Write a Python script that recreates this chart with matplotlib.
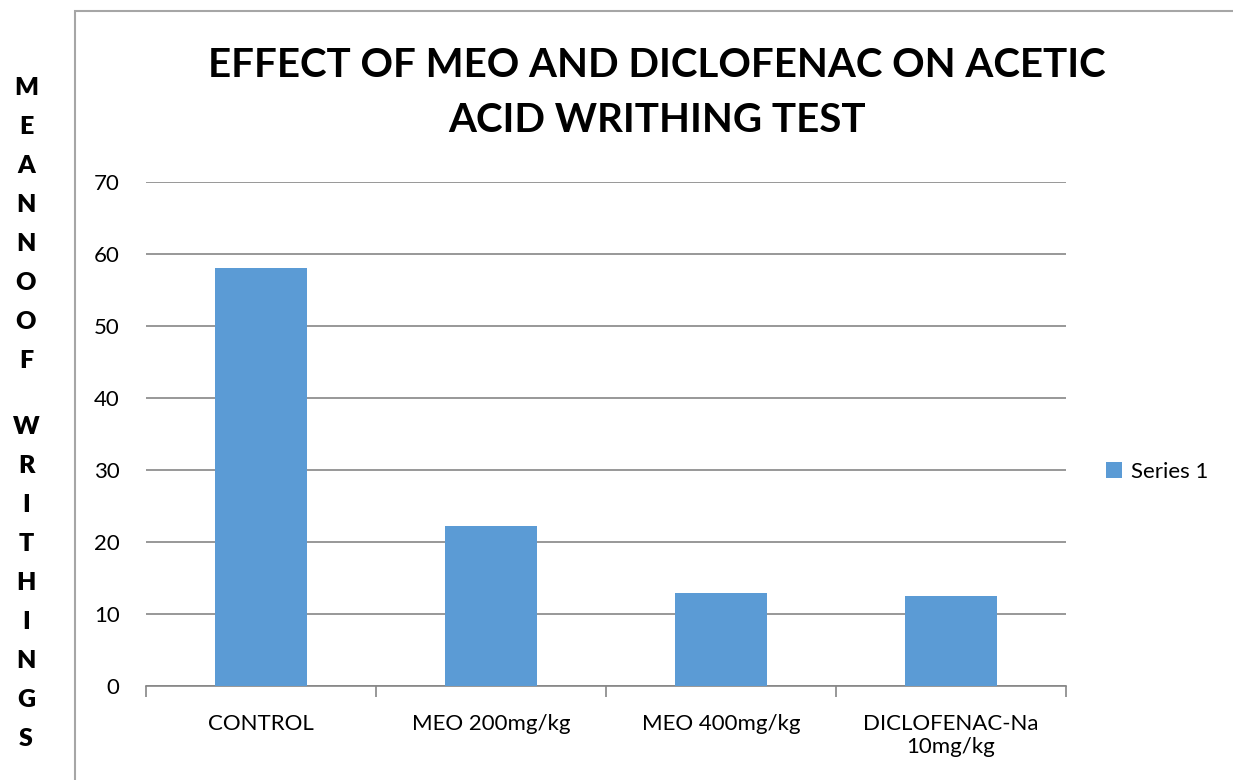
#! /usr/bin/env python3
import matplotlib
matplotlib.use('Agg')
from matplotlib import pyplot as plt
from matplotlib.patches import Rectangle

plt.rcParams['font.family'] = ['Lato', 'DejaVu Sans']

categories = ['CONTROL', 'MEO 200mg/kg', 'MEO 400mg/kg', 'DICLOFENAC-Na\n10mg/kg']
values = [58.0, 22.2, 12.9, 12.5]
series_name = 'Series 1'
title = 'EFFECT OF MEO AND DICLOFENAC ON ACETIC\nACID WRITHING TEST'
ylabel_words = ['MEANNOOF', 'WRITHINGS']

W, H = 1233, 780
fig = plt.figure(figsize=(W / 100, H / 100), dpi=100)

# plot area in pixels: x 146..1066, y 182 (70) .. 686 (0)
ax = fig.add_axes([146 / W, 1 - 686 / H, 920 / W, 504 / H])

bar_color = '#5b9bd5'
grid_color = '#868686'
x = list(range(len(categories)))
ax.bar(x, values, width=0.4, color=bar_color, label=series_name, zorder=3)

ax.set_xlim(-0.5, len(categories) - 0.5)
ax.set_ylim(0, 70)
ax.set_yticks(range(0, 71, 10))
ax.yaxis.grid(True, color=grid_color, linewidth=1.2, zorder=0)
for s in ['top', 'right', 'left']:
    ax.spines[s].set_visible(False)
ax.spines['bottom'].set_color(grid_color)
ax.spines['bottom'].set_linewidth(1.2)
ax.tick_params(axis='y', length=0, pad=19, labelsize=16)
ax.set_xticks([i - 0.5 for i in range(len(categories) + 1)], minor=False)
ax.set_xticklabels([])
ax.tick_params(axis='x', which='major', length=8, color=grid_color, width=1.2)
ax.set_xticks(x, minor=True)
ax.set_xticklabels(categories, minor=True, fontsize=16, linespacing=1.2)
ax.tick_params(axis='x', which='minor', length=0, pad=20)

fig.text(657 / W, 1 - 93 / H, title, ha='center', va='center',
         fontsize=29, fontweight='bold', linespacing=1.62)

ax.legend(loc='center left', bbox_to_anchor=(1.022, 0.425), frameon=False,
          fontsize=16, handlelength=0.7, handleheight=0.7, handletextpad=0.4)

# outer chart border (cut off at right and bottom)
fig.patches.append(Rectangle((75 / W, -0.05), 1.2, 1 - 11 / H + 0.05,
                             transform=fig.transFigure, fill=False,
                             edgecolor='#a6a6a6', linewidth=1.5))

# stacked letters for the y label
y = 88
for k, word in enumerate(ylabel_words):
    for ch in word:
        fig.text(26 / W, 1 - y / H, ch, ha='center', va='center',
                 fontsize=18, fontweight='heavy')
        y += 39
    y += 27

fig.savefig('out.png', dpi=100)
